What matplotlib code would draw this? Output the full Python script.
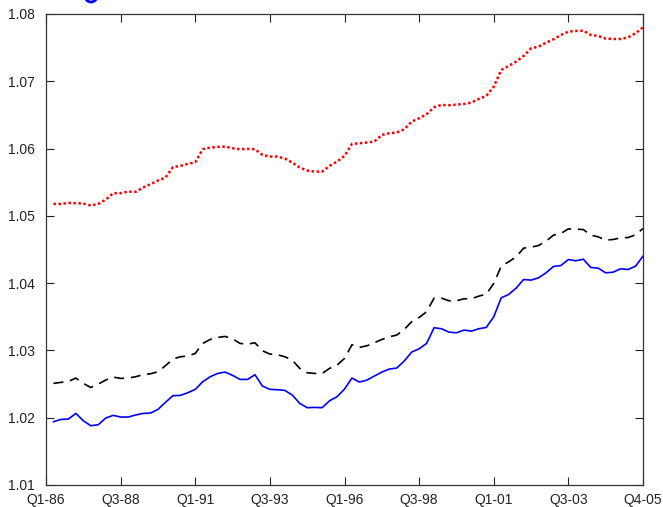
import numpy as np
import matplotlib
matplotlib.use("Agg")
import matplotlib.pyplot as plt
from matplotlib.patches import Ellipse

plt.rcParams['font.family'] = ['Liberation Sans', 'DejaVu Sans']

# quarterly index values, Q2-86 .. Q4-05 (quarter 1..80)
blue = [1.01941, 1.01975, 1.01980, 1.02064, 1.01955, 1.01881, 1.01896, 1.01995, 1.02035, 1.02010,
        1.02010, 1.02040, 1.02064, 1.02069, 1.02124, 1.02228, 1.02327, 1.02332, 1.02371, 1.02421,
        1.02535, 1.02609, 1.02658, 1.02678, 1.02629, 1.02569, 1.02569, 1.02639, 1.02470, 1.02421,
        1.02416, 1.02406, 1.02337, 1.02213, 1.02149, 1.02153, 1.02149, 1.02252, 1.02312, 1.02426,
        1.02589, 1.02530, 1.02559, 1.02619, 1.02678, 1.02723, 1.02738, 1.02842, 1.02975, 1.03025,
        1.03104, 1.03337, 1.03322, 1.03272, 1.03262, 1.03302, 1.03287, 1.03322, 1.03342, 1.03500,
        1.03782, 1.03832, 1.03926, 1.04054, 1.04045, 1.04079, 1.04153, 1.04248, 1.04262, 1.04351,
        1.04332, 1.04356, 1.04233, 1.04223, 1.04153, 1.04163, 1.04213, 1.04203, 1.04252, 1.04401]

black = [1.02510, 1.02525, 1.02540, 1.02589, 1.02510, 1.02450, 1.02500, 1.02559, 1.02604, 1.02584,
         1.02589, 1.02609, 1.02639, 1.02653, 1.02683, 1.02772, 1.02871, 1.02906, 1.02916, 1.02955,
         1.03104, 1.03163, 1.03193, 1.03208, 1.03173, 1.03104, 1.03094, 1.03114, 1.02995, 1.02946,
         1.02936, 1.02906, 1.02856, 1.02733, 1.02668, 1.02658, 1.02658, 1.02733, 1.02782, 1.02881,
         1.03084, 1.03045, 1.03069, 1.03114, 1.03163, 1.03203, 1.03228, 1.03312, 1.03426, 1.03490,
         1.03574, 1.03777, 1.03777, 1.03738, 1.03738, 1.03767, 1.03767, 1.03807, 1.03837, 1.03995,
         1.04252, 1.04317, 1.04391, 1.04520, 1.04535, 1.04559, 1.04624, 1.04713, 1.04738, 1.04807,
         1.04802, 1.04797, 1.04713, 1.04688, 1.04639, 1.04649, 1.04673, 1.04678, 1.04718, 1.04812]

red = [1.05178, 1.05178, 1.05193, 1.05188, 1.05183, 1.05153, 1.05178, 1.05240, 1.05337, 1.05337,
       1.05361, 1.05356, 1.05421, 1.05470, 1.05525, 1.05569, 1.05723, 1.05743, 1.05772, 1.05797,
       1.05990, 1.06015, 1.06025, 1.06030, 1.06005, 1.05990, 1.05995, 1.05990, 1.05906, 1.05881,
       1.05881, 1.05851, 1.05792, 1.05718, 1.05673, 1.05658, 1.05658, 1.05743, 1.05807, 1.05891,
       1.06069, 1.06079, 1.06089, 1.06104, 1.06203, 1.06228, 1.06238, 1.06287, 1.06401, 1.06450,
       1.06510, 1.06614, 1.06649, 1.06644, 1.06653, 1.06663, 1.06683, 1.06738, 1.06782, 1.06921,
       1.07168, 1.07228, 1.07292, 1.07376, 1.07490, 1.07515, 1.07574, 1.07624, 1.07688, 1.07738,
       1.07748, 1.07752, 1.07688, 1.07673, 1.07634, 1.07629, 1.07629, 1.07653, 1.07713, 1.07802]

tick_pos = [0, 10, 20, 30, 40, 50, 60, 70, 80]
tick_lab = ['Q1-86', 'Q3-88', 'Q1-91', 'Q3-93', 'Q1-96', 'Q3-98', 'Q1-01', 'Q3-03', 'Q4-05']
y_ticks = [1.01, 1.02, 1.03, 1.04, 1.05, 1.06, 1.07, 1.08]

x = np.arange(1, len(blue) + 1)

W, H = 663, 507
fig = plt.figure(figsize=(W / 100, H / 100), dpi=100)
ax = fig.add_axes([46 / W, 1 - 485 / H, 597 / W, 471 / H])

ax.plot(x, red, color='red', linestyle=(0, (1, 1)), linewidth=1.8)
ax.plot(x, black, color='black', linestyle=(0, (6, 4)), linewidth=1.2)
ax.plot(x, blue, color='blue', linestyle='-', linewidth=1.2)

ax.set_xlim(0, 80)
ax.set_ylim(1.01, 1.08)
ax.set_xticks(tick_pos)
ax.set_xticklabels(tick_lab)
ax.set_yticks(y_ticks)
ax.set_yticklabels(['%.2f' % v for v in y_ticks])

ax.tick_params(direction='in', length=6, width=0.8, top=True, right=True,
               labelsize=10, colors='#222222')
ax.tick_params(axis='x', pad=6)
ax.tick_params(axis='y', pad=8)
for s in ax.spines.values():
    s.set_color('#333333')
    s.set_linewidth(0.9)

# clipped blue ring along the top edge
fig.patches.append(Ellipse((91 / W, 1 + 4 / H), 12 / W, 12 / H, transform=fig.transFigure,
                           fill=False, edgecolor='blue', linewidth=2))

fig.savefig('out.png', dpi=100)
